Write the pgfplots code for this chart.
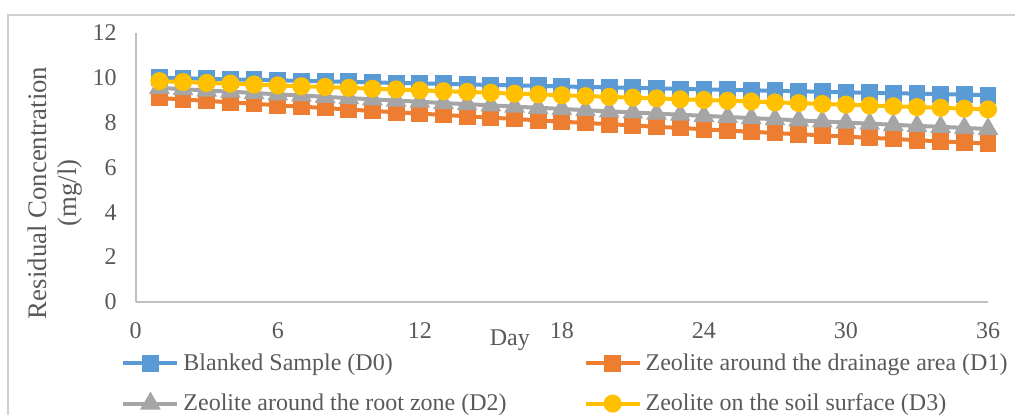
\documentclass[border=0pt]{standalone}
\usepackage{fontspec}
\setmainfont{Liberation Serif}
\usepackage{pgfplots}
\pgfplotsset{compat=1.18}
\definecolor{cA}{HTML}{5B9BD5}
\definecolor{cB}{HTML}{ED7D31}
\definecolor{cC}{HTML}{A5A5A5}
\definecolor{cD}{HTML}{FFC000}
\definecolor{txt}{HTML}{595959}
\definecolor{axc}{HTML}{BFBFBF}
\definecolor{frm}{HTML}{D0D0D0}
\begin{document}
\begin{tikzpicture}
\begin{axis}[
  scale only axis, width=426.15pt, height=134.35pt,
  xmin=0, xmax=36, ymin=0, ymax=12,
  xtick={0,6,...,36}, ytick={0,2,...,12},
  axis x line*=bottom, axis y line*=left,
  axis line style={draw=axc, line width=0.9pt, -},
  major tick length=0pt,
  tick label style={font=\fontsize{12}{14}\selectfont, text=txt},
  /pgf/number format/assume math mode=true,
  yticklabel style={xshift=-6pt},
  xticklabel style={yshift=-7pt},
  xlabel={Day},
  xlabel style={at={(axis description cs:0.439,-0.1425)}, anchor=center, font=\fontsize{12}{14}\selectfont, text=txt},
  ylabel={Residual Concentration\\(mg/l)},
  ylabel style={at={(axis description cs:-0.0947,0.405)}, anchor=center, align=center, font=\fontsize{13.4}{15}\selectfont, text=txt},
  legend columns=2,
  legend cell align=left,
  legend style={at={(axis description cs:-0.0172,-0.176)}, anchor=north west, draw=none, fill=none, inner sep=0pt,
    font=\fontsize{12}{14}\selectfont, text=txt, row sep=6.3pt,
    /tikz/every even column/.append style={column sep=36.5pt}},
  legend image code/.code={\draw[mark repeat=2,mark phase=2] plot coordinates {(0pt,0pt) (13.5pt,0pt) (27pt,0pt)};},
  every axis plot/.append style={line width=2pt},
]
\addplot[color=cA, mark=square*, mark size=3.2pt, mark options={solid}] coordinates {
(1,10.00)(2,9.98)(3,9.95)(4,9.93)(5,9.91)(6,9.89)(7,9.86)(8,9.84)(9,9.82)(10,9.79)(11,9.77)(12,9.75)(13,9.73)(14,9.70)(15,9.68)(16,9.66)(17,9.64)(18,9.61)(19,9.59)(20,9.57)(21,9.55)(22,9.53)(23,9.50)(24,9.48)(25,9.46)(26,9.44)(27,9.42)(28,9.40)(29,9.37)(30,9.35)(31,9.33)(32,9.31)(33,9.29)(34,9.27)(35,9.25)(36,9.22)};
\addlegendentry{Blanked Sample (D0)}
\addplot[color=cB, mark=square*, mark size=3.2pt] coordinates {
(1,9.10)(2,9.03)(3,8.97)(4,8.90)(5,8.84)(6,8.77)(7,8.71)(8,8.65)(9,8.58)(10,8.52)(11,8.46)(12,8.40)(13,8.34)(14,8.28)(15,8.22)(16,8.16)(17,8.10)(18,8.04)(19,7.98)(20,7.93)(21,7.87)(22,7.81)(23,7.76)(24,7.70)(25,7.64)(26,7.59)(27,7.53)(28,7.48)(29,7.43)(30,7.37)(31,7.32)(32,7.27)(33,7.21)(34,7.16)(35,7.11)(36,7.06)};
\addlegendentry{Zeolite around the drainage area (D1)}
\addplot[color=cC, mark=triangle*, mark size=4pt] coordinates {
(1,9.55)(2,9.49)(3,9.43)(4,9.38)(5,9.32)(6,9.26)(7,9.21)(8,9.15)(9,9.09)(10,9.04)(11,8.98)(12,8.93)(13,8.87)(14,8.82)(15,8.77)(16,8.71)(17,8.66)(18,8.61)(19,8.55)(20,8.50)(21,8.45)(22,8.40)(23,8.35)(24,8.30)(25,8.25)(26,8.20)(27,8.15)(28,8.10)(29,8.05)(30,8.00)(31,7.95)(32,7.90)(33,7.85)(34,7.81)(35,7.76)(36,7.71)};
\addlegendentry{Zeolite around the root zone (D2)}
\addplot[color=cD, mark=*, mark size=3.5pt] coordinates {
(1,9.85)(2,9.81)(3,9.77)(4,9.74)(5,9.70)(6,9.66)(7,9.62)(8,9.59)(9,9.55)(10,9.51)(11,9.48)(12,9.44)(13,9.40)(14,9.37)(15,9.33)(16,9.29)(17,9.26)(18,9.22)(19,9.18)(20,9.15)(21,9.11)(22,9.08)(23,9.04)(24,9.01)(25,8.97)(26,8.94)(27,8.90)(28,8.87)(29,8.83)(30,8.80)(31,8.76)(32,8.73)(33,8.69)(34,8.66)(35,8.62)(36,8.59)};
\addlegendentry{Zeolite on the soil surface (D3)}
\end{axis}
\pgfresetboundingbox
\path[use as bounding box] ([xshift=-67.85pt,yshift=-56.65pt]current axis.south west) rectangle ++(507.5pt,207.5pt);
\draw[frm, line width=0.9pt] ([xshift=-63.85pt,yshift=-60pt]current axis.south west) rectangle ++(520pt,203.35pt);
\end{tikzpicture}
\end{document}
